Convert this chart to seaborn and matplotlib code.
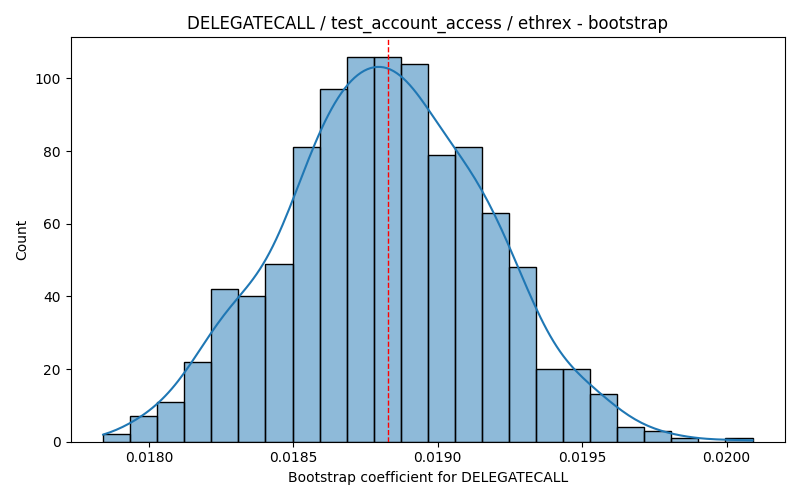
import numpy as np
import pandas as pd
import matplotlib
matplotlib.use("Agg")
import matplotlib.pyplot as plt
import seaborn as sns

# bootstrap sample summary (1000 draws)
coef_min = 0.017841
coef_max = 0.020090
bin_counts = [2, 7, 11, 22, 42, 40, 49, 81, 97, 106, 106, 104,
              79, 81, 63, 48, 20, 20, 13, 4, 3, 1, 0, 1]
point_estimate = 0.018827

edges = np.linspace(coef_min, coef_max, len(bin_counts) + 1)
# bin centres carry the counts; the sample extremes carry no weight but
# keep the density curve spanning the full observed range
df = pd.DataFrame({
    "coef": np.concatenate([[coef_min], (edges[:-1] + edges[1:]) / 2, [coef_max]]),
    "count": [0] + bin_counts + [0],
})

# weighted kde shrinks the effective n, so scale bandwidth back to n=1000
n_total = sum(bin_counts)
n_eff = n_total ** 2 / sum(c * c for c in bin_counts)
bw_scale = 1.1 * (n_total / n_eff) ** (-1 / 5)

fig, ax = plt.subplots(figsize=(8, 5), dpi=100)
sns.histplot(data=df, x="coef", weights="count", bins=len(bin_counts),
             binrange=(coef_min, coef_max), kde=True,
             kde_kws={"bw_adjust": bw_scale}, ax=ax)
ax.axvline(point_estimate, color="red", linestyle="--", linewidth=1)

ax.set_title("DELEGATECALL / test_account_access / ethrex - bootstrap")
ax.set_xlabel("Bootstrap coefficient for DELEGATECALL")
ax.set_ylabel("Count")

plt.tight_layout()
fig.savefig("out.png")
